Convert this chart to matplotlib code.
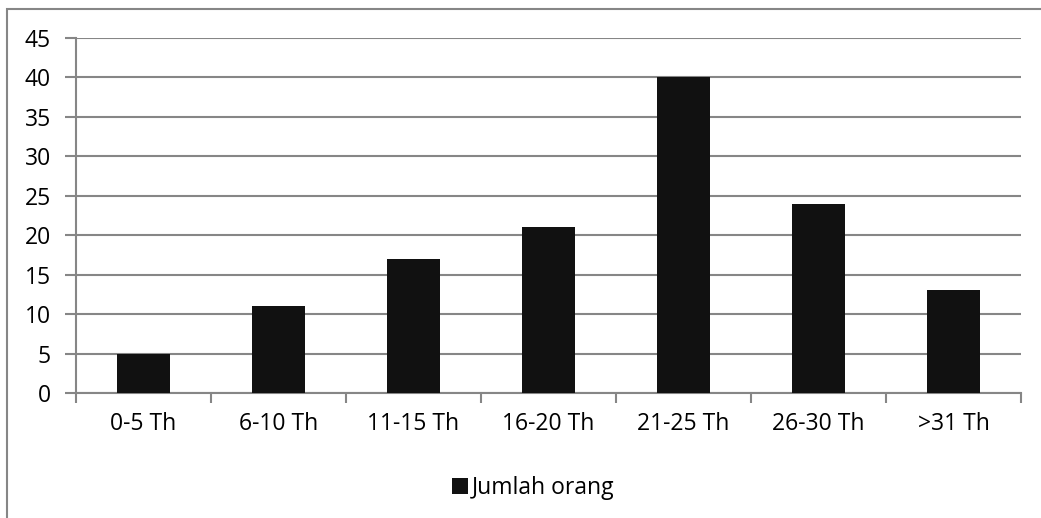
import matplotlib.pyplot as plt
from matplotlib.patches import Rectangle

categories = ["0-5 Th", "6-10 Th", "11-15 Th", "16-20 Th", "21-25 Th", "26-30 Th", ">31 Th"]
jumlah_orang = [5, 11, 17, 21, 40, 24, 13]
y_ticks = [0, 5, 10, 15, 20, 25, 30, 35, 40, 45]

plt.rcParams['font.family'] = ['Open Sans', 'DejaVu Sans']
grid_color = "#868686"
fs = 16.5

fig = plt.figure(figsize=(10.41, 5.18), dpi=100)
ax = fig.add_axes([76 / 1041, 1 - 393 / 518, (1021 - 76) / 1041, (393 - 38) / 518])

x = list(range(len(categories)))
ax.bar(x, jumlah_orang, width=0.39, color="#111111", label="Jumlah orang", zorder=3)

ax.set_xlim(-0.5, len(categories) - 0.5)
ax.set_ylim(0, 45)
ax.set_yticks(y_ticks)
ax.set_yticklabels([str(v) for v in y_ticks], fontsize=fs)
ax.yaxis.grid(True, color=grid_color, linewidth=1.5, zorder=0)

# category labels centred, tick marks on category boundaries
ax.set_xticks(x)
ax.set_xticklabels(categories, fontsize=fs)
ax.tick_params(axis='x', length=0, pad=14)
ax.set_xticks([i - 0.5 for i in range(len(categories) + 1)], minor=True)
ax.tick_params(axis='x', which='minor', length=7, width=1.5, color=grid_color, direction='out')
ax.tick_params(axis='y', length=8, width=1.5, color=grid_color, direction='out', pad=10)

for side in ["top", "right"]:
    ax.spines[side].set_visible(False)
ax.spines["left"].set_color(grid_color)
ax.spines["left"].set_linewidth(1.5)
ax.spines["bottom"].set_color(grid_color)
ax.spines["bottom"].set_linewidth(1.5)

ax.legend(loc="center", bbox_to_anchor=(533 / 1041, 1 - 488 / 518), bbox_transform=fig.transFigure,
          frameon=False, fontsize=fs, handlelength=0.7, handleheight=0.7, handletextpad=0.15,
          borderpad=0)

# outer chart border
fig.patches.append(Rectangle((7 / 1041, -0.1), 1.2, 1 - 9 / 518 + 0.1, transform=fig.transFigure,
                             fill=False, edgecolor=grid_color, linewidth=1.5))

fig.savefig("out.png", dpi=100)
